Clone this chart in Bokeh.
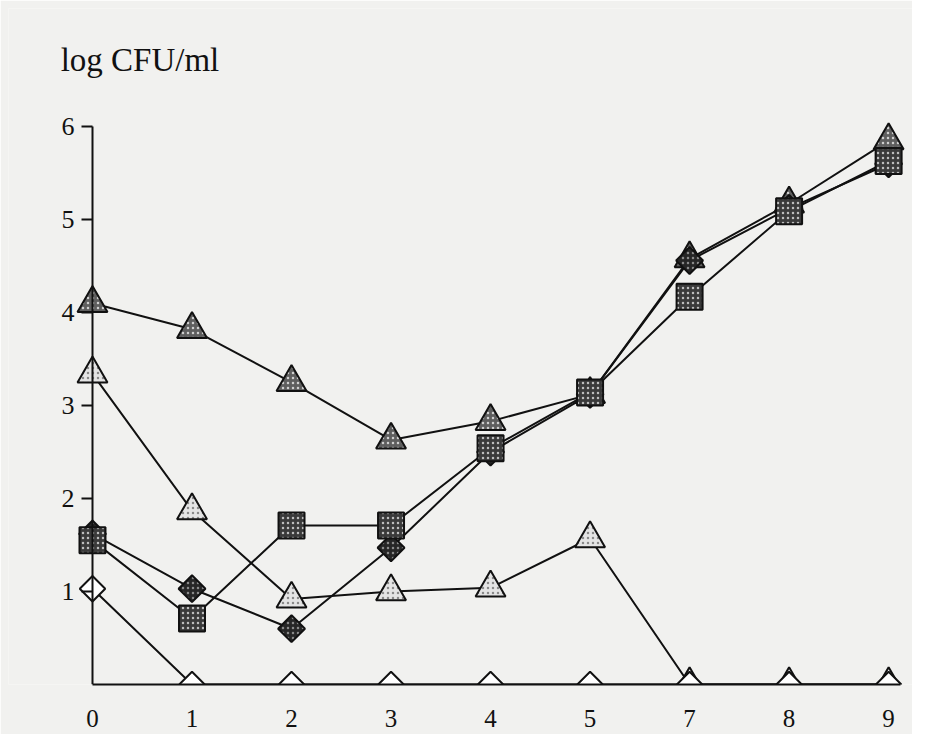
import math
from bokeh.plotting import figure
from bokeh.models import Label, FixedTicker, Range1d, ColumnDataSource
from bokeh.embed import file_html
from bokeh.resources import INLINE

# ---- data ----
days = ["0", "1", "2", "3", "4", "5", "7", "8", "9"]
dark_triangles = [4.10, 3.82, 3.25, 2.63, 2.83, 3.12, 4.58, 5.17, 5.85]
light_triangles = [3.34, 1.87, 0.92, 1.00, 1.04, 1.57, 0.0, 0.0, 0.0]
squares = [1.55, 0.71, 1.71, 1.71, 2.54, 3.14, 4.17, 5.09, 5.63]
dark_diamonds = [1.62, 1.03, 0.60, 1.47, 2.50, 3.12, 4.56, 5.12, 5.60]
white_diamonds = [1.03, 0.0, 0.0, 0.0, 0.0, 0.0, 0.0, 0.0, 0.0]
y_ticks = [1, 2, 3, 4, 5, 6]
y_label = "log CFU/ml"

BG = "#f1f1ef"
FONT = "Liberation Serif"

xpos = list(range(len(days)))

p = figure(width=912, height=734,
           x_range=Range1d(-0.844, 8.24), y_range=Range1d(0, 7.27),
           output_backend="svg", toolbar_location=None,
           min_border_left=8, min_border_right=0,
           min_border_top=8, min_border_bottom=50,
           background_fill_color=BG, border_fill_color=BG,
           outline_line_color=None)
p.grid.visible = False

# x axis
xa = p.xaxis[0]
xa.ticker = FixedTicker(ticks=xpos)
xa.major_label_overrides = {i: d for i, d in zip(xpos, days)}
xa.major_tick_line_color = None
xa.minor_tick_line_color = None
xa.axis_line_width = 2
xa.axis_line_color = "#111111"
xa.bounds = (0, 8.12)
xa.major_label_standoff = 19
xa.major_label_text_font = FONT
xa.major_label_text_font_size = "25px"
xa.major_label_text_color = "#111111"

# y axis, placed at x = 0
ya = p.yaxis[0]
ya.fixed_location = 0
ya.ticker = FixedTicker(ticks=y_ticks)
ya.major_tick_out = 11
ya.major_tick_in = 0
ya.major_tick_line_width = 2
ya.major_tick_line_color = "#111111"
ya.minor_tick_line_color = None
ya.axis_line_width = 2
ya.axis_line_color = "#111111"
ya.bounds = (0, 6)
ya.major_label_standoff = 7
ya.major_label_text_font = FONT
ya.major_label_text_font_size = "26px"
ya.major_label_text_color = "#111111"

series = [
    (dark_triangles, dict(marker="triangle", size=30, fill_color="#5e5e5e",
                          hatch_pattern=".", hatch_color="#cfcfcf", hatch_scale=5)),
    (light_triangles, dict(marker="triangle", size=30, fill_color="#e4e4e4",
                           hatch_pattern=".", hatch_color="#8a8a8a", hatch_scale=5)),
    (dark_diamonds, dict(marker="square", angle=math.pi / 4, size=19, fill_color="#262626",
                         hatch_pattern=".", hatch_color="#8a8a8a", hatch_scale=5)),
    (squares, dict(marker="square", size=26, fill_color="#3a3a3a",
                   hatch_pattern=".", hatch_color="#bdbdbd", hatch_scale=5)),
    (white_diamonds, dict(marker="square", angle=math.pi / 4, size=18, fill_color="#ffffff")),
]

for vals, _ in series:
    p.line(xpos, vals, line_color="#111111", line_width=2)

for vals, kw in series:
    src = ColumnDataSource(dict(x=xpos, y=vals))
    p.scatter("x", "y", source=src, line_color="#111111", line_width=2, **kw)

p.add_layout(Label(x=-0.32, y=6.72, text=y_label, text_font=FONT,
                   text_font_size="33px", text_color="#111111",
                   text_baseline="alphabetic"))

open("out.html", "w").write(file_html(p, INLINE))
